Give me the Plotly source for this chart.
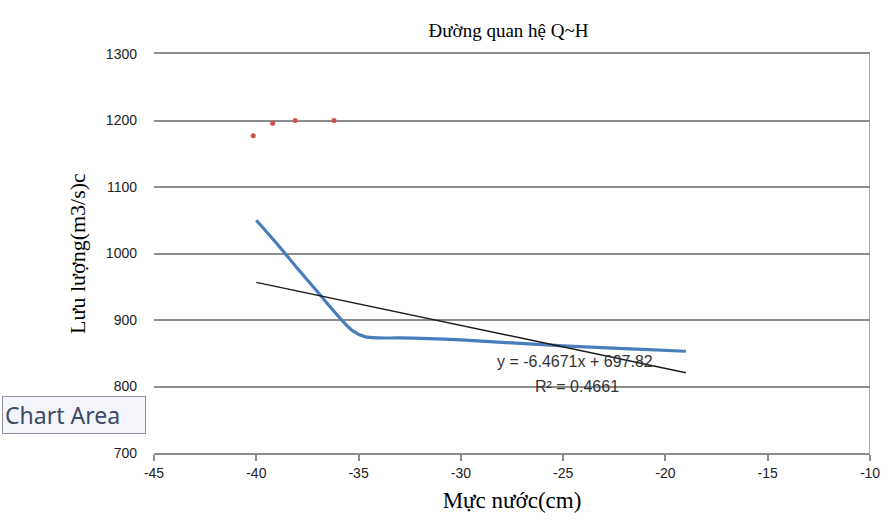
import plotly.graph_objects as go

# Red scatter points (observed)
obs_x = [-40.15, -39.2, -38.1, -36.2]
obs_q = [1177, 1196, 1200, 1200]

# Blue rating curve
curve_x = [-40, -39, -38, -37, -36, -35.3, -34.7, -34, -33, -30, -25, -22, -19]
curve_q = [1050, 1015, 978, 942, 906, 884, 875, 873, 873, 870, 861, 857, 853]

# Linear trendline y = a*x + b
trend_a = -6.4671
trend_b = 697.82
trend_r2 = 0.4661
trend_x = [-40, -19]

x_ticks = [-45, -40, -35, -30, -25, -20, -15, -10]
y_ticks = [700, 800, 900, 1000, 1100, 1200, 1300]

trend_y = [trend_a * v + trend_b for v in trend_x]

L, R, T, B = 154, 15, 54, 71
PW = 892 - L - R
PH = 524 - T - B

fig = go.Figure()
fig.add_trace(go.Scatter(x=curve_x, y=curve_q, mode="lines",
                         line=dict(color="#4a7ebb", width=3.2, shape="spline", smoothing=0.8),
                         showlegend=False, hoverinfo="skip"))
fig.add_trace(go.Scatter(x=trend_x, y=trend_y, mode="lines",
                         line=dict(color="#1a1a1a", width=1.4),
                         showlegend=False, hoverinfo="skip"))
fig.add_trace(go.Scatter(x=obs_x, y=obs_q, mode="markers",
                         marker=dict(color="#d0504d", size=5, symbol="circle"),
                         showlegend=False, hoverinfo="skip"))

tickfont = dict(family="Liberation Sans", size=14, color="#222")
fig.update_layout(
    width=892, height=524,
    margin=dict(l=L, r=R, t=T, b=B),
    paper_bgcolor="white", plot_bgcolor="white",
    title=dict(text="Đường quan hệ Q~H", x=(512 - L) / PW, xref="paper", xanchor="center",
               y=1 - 30 / 524, yanchor="middle",
               font=dict(family="Liberation Serif", size=19, color="#000")),
    xaxis=dict(range=[-45, -10], tickvals=x_ticks, ticktext=[str(v) for v in x_ticks],
               showgrid=False, zeroline=False, showline=True, mirror=True,
               linecolor="#8c8c8c", linewidth=1.5,
               ticks="outside", ticklen=6, tickcolor="#8c8c8c", tickwidth=1.5,
               tickfont=tickfont,
               title=dict(text="Mực nước(cm)", standoff=12,
                          font=dict(family="Liberation Serif", size=23, color="#000"))),
    yaxis=dict(range=[700, 1300], tickvals=y_ticks, ticktext=[str(v) for v in y_ticks],
               showgrid=True, gridcolor="#8c8c8c", gridwidth=1.5, zeroline=False, showline=False,
               ticks="", ticklabelstandoff=16,
               tickfont=tickfont,
               title=dict(text="Lưu lượng(m3/s)c", standoff=14,
                          font=dict(family="Liberation Serif", size=22, color="#000"))),
    shapes=[dict(type="line", xref="x", yref="y", x0=-10, x1=-10, y0=700, y1=1300,
                 line=dict(color="#8c8c8c", width=1.5))],
    annotations=[
        dict(text=f"y = {trend_a}x + {trend_b}", xref="x", yref="y", x=-24.4, y=837,
             showarrow=False, font=dict(family="Liberation Sans", size=16, color="#333"),
             xanchor="center", yanchor="middle"),
        dict(text=f"R² = {trend_r2}", xref="x", yref="y", x=-24.3, y=800,
             showarrow=False, font=dict(family="Liberation Sans", size=16, color="#333"),
             xanchor="center", yanchor="middle"),
        dict(text="Chart Area", xref="paper", yref="paper",
             x=(1 - L) / PW, y=(524 - B - 415) / PH,
             xanchor="left", yanchor="middle", showarrow=False,
             width=138, align="left",
             bgcolor="#f3f5fa", bordercolor="#8e949e", borderwidth=1, borderpad=2,
             font=dict(family="Noto Sans", size=23, color="#3d4b66")),
    ],
)
fig.write_html("out.html")
